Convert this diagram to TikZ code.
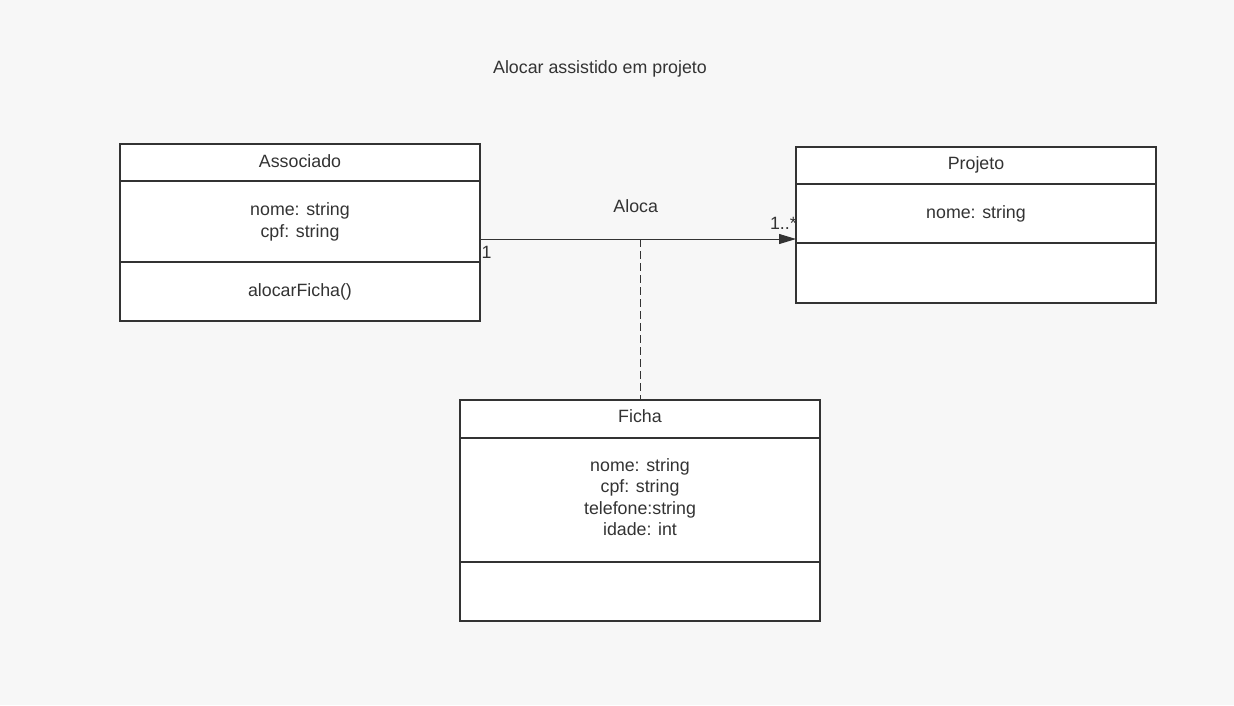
\documentclass[tikz,border=0pt]{standalone}
\usepackage{fontspec}
\setmainfont{Liberation Sans}
\usetikzlibrary{arrows.meta}
\definecolor{bg}{HTML}{F7F7F7}
\definecolor{ink}{HTML}{333333}
\begin{document}
\begin{tikzpicture}[x=1pt,y=-1pt,
  umlbox/.style={draw=ink,fill=white,line width=2pt,inner sep=0pt,outer sep=0pt},
  sepline/.style={draw=ink,line width=2pt},
  lbl/.style={anchor=base,inner sep=0pt,text=ink,font=\fontsize{17.8}{21.7}\selectfont},
  assoc/.style={draw=ink,line width=1pt},
  dep/.style={draw=ink,line width=1pt,dash pattern=on 8pt off 4pt}]
\fill[bg] (0,0) rectangle (1234,705);
\useasboundingbox (0,0) rectangle (1234,705);

\node[lbl] (title) at (600,73) {Alocar assistido em projeto};

% Associado
\node[umlbox,minimum width=360pt,minimum height=177pt] (asc) at (300,232.5) {};
\draw[sepline] (120,181) -- (480,181);
\draw[sepline] (120,262) -- (480,262);
\node[lbl] (ascname) at (300,167) {Associado};
\node[lbl] (asca1) at (300,215.5) {nome: string};
\node[lbl] (asca2) at (300,237.2) {cpf: string};
\node[lbl] (ascm1) at (300,296.5) {alocarFicha()};

% Projeto
\node[umlbox,minimum width=360pt,minimum height=156pt] (proj) at (976,225) {};
\draw[sepline] (796,184) -- (1156,184);
\draw[sepline] (796,243) -- (1156,243);
\node[lbl] (projname) at (976,169.3) {Projeto};
\node[lbl] (proja1) at (976,218.3) {nome: string};

% Ficha
\node[umlbox,minimum width=360pt,minimum height=221pt] (ficha) at (640,510.5) {};
\draw[sepline] (460,438) -- (820,438);
\draw[sepline] (460,562) -- (820,562);
\node[lbl] (fichaname) at (640,422.7) {Ficha};
\node[lbl] (ficha1) at (640,471) {nome: string};
\node[lbl] (ficha2) at (640,492.5) {cpf: string};
\node[lbl] (ficha3) at (640,514) {telefone:string};
\node[lbl] (ficha4) at (640,535.5) {idade: int};

% association
\coordinate (mid) at (640,239);
\draw[assoc,-{Triangle[length=17pt,width=10pt]}] (asc.east |- mid) -- (proj.west |- mid);
\draw[dep] (mid) -- (ficha.north);
\node[lbl] (aloca) at (635.7,212.5) {Aloca};
\node[lbl,anchor=base west] (m1) at (481.5,258) {1};
\node[lbl,anchor=base east] (m2) at (797,229) {1..*};
\end{tikzpicture}
\end{document}
